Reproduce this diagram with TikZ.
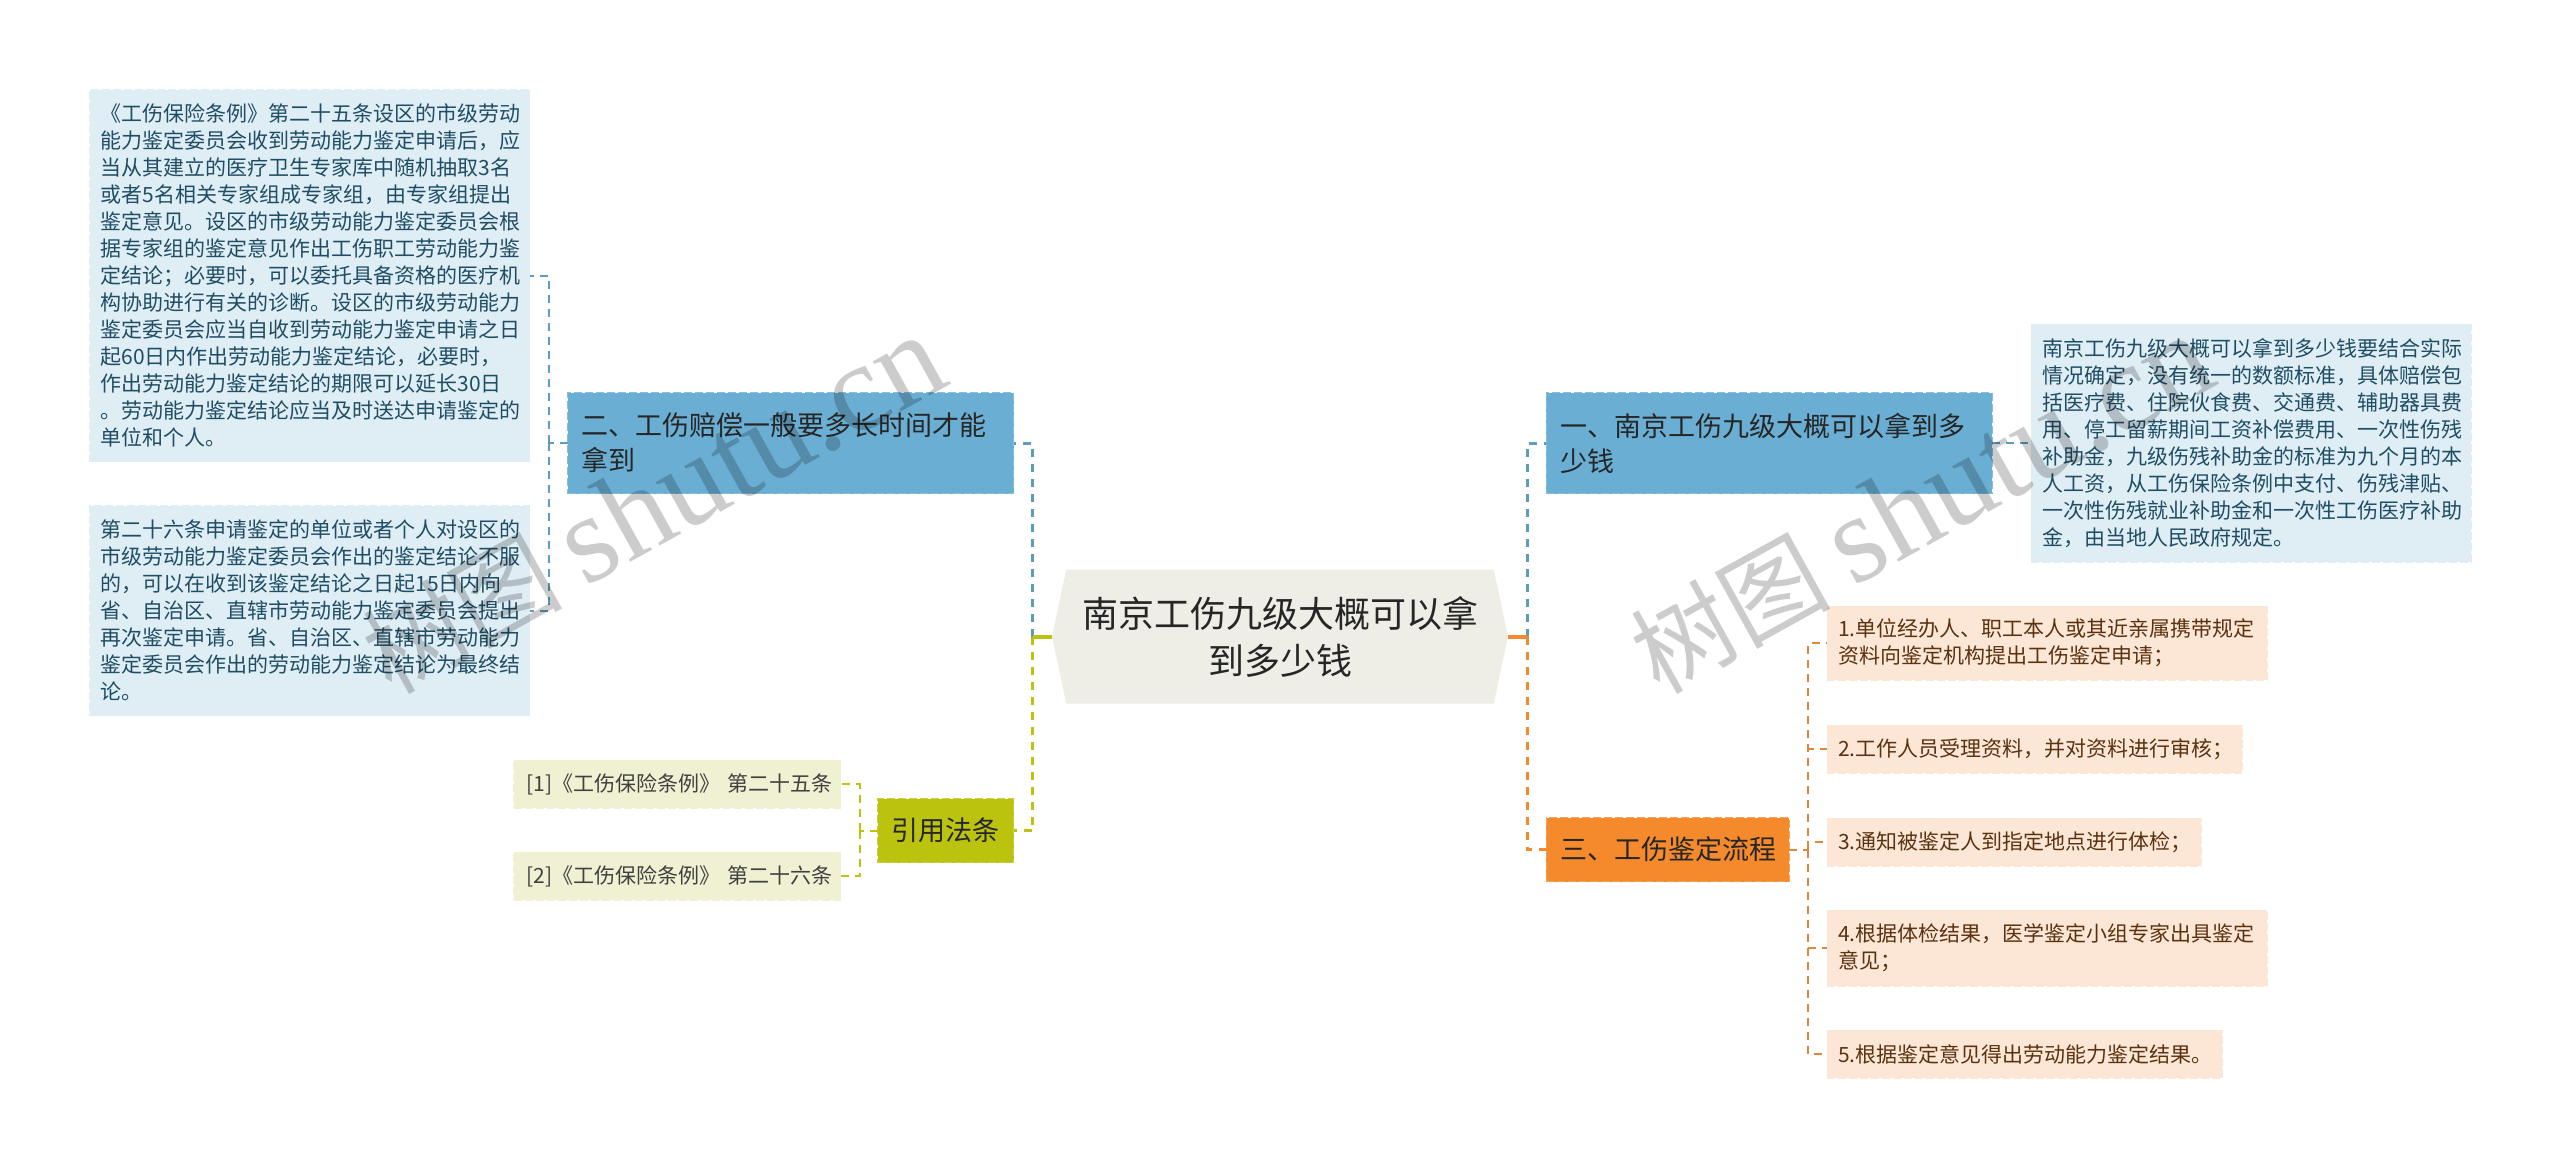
\documentclass[tikz,border=0pt]{standalone}
\usepackage{fontspec}
\setmainfont{Noto Sans CJK SC}
\newfontfamily\latinmark[Scale=1.25]{Liberation Serif}
\usetikzlibrary{positioning,shapes.symbols}
\definecolor{rootfill}{HTML}{EEEEE6}
\definecolor{bluefill}{HTML}{6AAED3}
\definecolor{blueleaf}{HTML}{DFEDF5}
\definecolor{blueline}{HTML}{5C9DBB}
\definecolor{bluetext}{HTML}{1F4E64}
\definecolor{olivefill}{HTML}{BBC30F}
\definecolor{oliveleaf}{HTML}{EFF1D2}
\definecolor{orangefill}{HTML}{F58A2C}
\definecolor{orangeleaf}{HTML}{FCE7D7}
\definecolor{orangeline}{HTML}{E0883A}
\definecolor{orangetext}{HTML}{5A3210}
\tikzset{%
  rootnode/.style={shape=signal, signal to=east and west, signal pointer angle=156, fill=rootfill, text=black!85, align=center, minimum width=456pt, minimum height=134pt, inner sep=0pt, outer sep=0pt, font=\fontsize{36}{47}\selectfont},
  branch/.style={draw=#1!80!white, fill=#1, dash pattern=on 8pt off 3pt, line width=1pt, align=left, inner xsep=14pt, inner ysep=0pt, outer sep=0pt, text=black!85, font=\fontsize{27}{35}\selectfont},
  leaf/.style={draw=#1, fill=#1, dash pattern=on 8pt off 3pt, line width=1pt, align=left, inner xsep=11pt, inner ysep=0pt, outer sep=0pt, font=\fontsize{21}{27}\selectfont},
  bluenote/.style={leaf=blueleaf, text=bluetext},
  olivenote/.style={leaf=oliveleaf, text=black!75},
  orangenote/.style={leaf=orangeleaf, text=orangetext},
  trunk/.style={draw=#1, line width=3pt, dash pattern=on 8pt off 7pt},
  twig/.style={draw=#1, line width=2pt, dash pattern=on 8pt off 6pt},
  stub/.style={draw=#1, line width=4pt},
  watermark/.style={text=black, opacity=.2, rotate=29, font=\fontsize{100}{100}\selectfont},
}
\newcommand{\joinbranch}[3]{%
  \path [#1] (#2) |- (#3);}

\begin{document}
\begin{tikzpicture}
  [
  x=1pt, y=-1pt,
  ]
  \useasboundingbox (0,0) rectangle (2560,1167);

  \node (root) [rootnode] at (1280,636.5) {南京工伤九级大概可以拿\\到多少钱};

  \node (b1) [branch=bluefill, above right=143pt and 38pt of root.east, text width=418pt, minimum height=101pt] {一、南京工伤九级大概可以拿到多\\少钱};
  \node (b2) [branch=bluefill, above left=143pt and 38.5pt of root.west, text width=418pt, minimum height=101pt] {二、工伤赔偿一般要多长时间才能\\拿到};
  \node (b3) [branch=orangefill, below right=181pt and 38pt of root.east, text width=215pt, minimum height=64pt] {三、工伤鉴定流程};
  \node (b4) [branch=olivefill, below left=162pt and 38.5pt of root.west, text width=108pt, minimum height=64pt] {引用法条};

  \node (d1) [bluenote, right=39pt of b1, text width=418pt, minimum height=238pt] {南京工伤九级大概可以拿到多少钱要结合实际\\情况确定，没有统一的数额标准，具体赔偿包\\括医疗费、住院伙食费、交通费、辅助器具费\\用、停工留薪期间工资补偿费用、一次性伤残\\补助金，九级伤残补助金的标准为九个月的本\\人工资，从工伤保险条例中支付、伤残津贴、\\一次性伤残就业补助金和一次性工伤医疗补助\\金，由当地人民政府规定。};

  \node (l2) [bluenote, below left=62.5pt and 38pt of b2.west, text width=418pt, minimum height=210pt] {第二十六条申请鉴定的单位或者个人对设区的\\市级劳动能力鉴定委员会作出的鉴定结论不服\\的，可以在收到该鉴定结论之日起15日内向\\省、自治区、直辖市劳动能力鉴定委员会提出\\再次鉴定申请。省、自治区、直辖市劳动能力\\鉴定委员会作出的劳动能力鉴定结论为最终结\\论。};
  \node (l1) [bluenote, above left=44pt and 0pt of l2.north east, text width=418pt, minimum height=372pt] {《工伤保险条例》第二十五条设区的市级劳动\\能力鉴定委员会收到劳动能力鉴定申请后，应\\当从其建立的医疗卫生专家库中随机抽取3名\\或者5名相关专家组成专家组，由专家组提出\\鉴定意见。设区的市级劳动能力鉴定委员会根\\据专家组的鉴定意见作出工伤职工劳动能力鉴\\定结论；必要时，可以委托具备资格的医疗机\\构协助进行有关的诊断。设区的市级劳动能力\\鉴定委员会应当自收到劳动能力鉴定申请之日\\起60日内作出劳动能力鉴定结论，必要时，\\作出劳动能力鉴定结论的期限可以延长30日\\。劳动能力鉴定结论应当及时送达申请鉴定的\\单位和个人。};

  \node (r1) [olivenote, above left=22.5pt and 37pt of b4.west, inner xsep=13pt, text width=301pt, minimum height=48pt] {[1]《工伤保险条例》~第二十五条};
  \node (r2) [olivenote, below left=21.5pt and 37pt of b4.west, inner xsep=13pt, text width=301pt, minimum height=48pt] {[2]《工伤保险条例》~第二十六条};

  \node (s1) [orangenote, above right=169.5pt and 38pt of b3.east, text width=418pt, minimum height=74pt] {1.单位经办人、职工本人或其近亲属携带规定\\资料向鉴定机构提出工伤鉴定申请；};
  \node (s2) [orangenote, below right=45pt and 0pt of s1.south west, text width=393pt, minimum height=48pt] {2.工作人员受理资料，并对资料进行审核；};
  \node (s3) [orangenote, below right=45pt and 0pt of s2.south west, text width=352pt, minimum height=48pt] {3.通知被鉴定人到指定地点进行体检；};
  \node (s4) [orangenote, below right=44pt and 0pt of s3.south west, text width=418pt, minimum height=76pt] {4.根据体检结果，医学鉴定小组专家出具鉴定\\意见；};
  \node (s5) [orangenote, below right=44pt and 0pt of s4.south west, text width=373pt, minimum height=48pt] {5.根据鉴定意见得出劳动能力鉴定结果。};

  \coordinate [left=19.5pt of root.west] (trunkl);
  \coordinate [right=19pt of root.east] (trunkr);
  \coordinate [left=19pt of b2.west] (forkb2);
  \coordinate [right=19pt of b3.east] (forkb3);
  \coordinate [left=18pt of b4.west] (forkb4);

  \joinbranch{trunk=blueline}{trunkl}{b2.east};
  \joinbranch{trunk=olivefill}{trunkl}{b4.east};
  \joinbranch{trunk=blueline}{trunkr}{b1.west};
  \joinbranch{trunk=orangefill}{trunkr}{b3.west};
  \path [stub=olivefill] (root.west) -- (trunkl);
  \path [stub=orangefill] (root.east) -- (trunkr);

  \path [twig=blueline] (b1.east) -- (d1.west);
  \path [twig=blueline] (b2.west) -- (forkb2);
  \joinbranch{twig=blueline}{forkb2}{l1.east};
  \joinbranch{twig=blueline}{forkb2}{l2.east};

  \path [twig=olivefill] (b4.west) -- (forkb4);
  \joinbranch{twig=olivefill}{forkb4}{r1.east};
  \joinbranch{twig=olivefill}{forkb4}{r2.east};

  \path [twig=orangeline] (b3.east) -- (forkb3);
  \joinbranch{twig=orangeline}{forkb3}{s1.west};
  \joinbranch{twig=orangeline}{forkb3}{s2.west};
  \joinbranch{twig=orangeline}{forkb3}{s3.west};
  \joinbranch{twig=orangeline}{forkb3}{s4.west};
  \joinbranch{twig=orangeline}{forkb3}{s5.west};

  \node (mark1) [watermark] at (653,505) {树图 {\latinmark shutu.cn}};
  \node (mark2) [watermark] at (1921,505) {树图 {\latinmark shutu.cn}};
\end{tikzpicture}
\end{document}
